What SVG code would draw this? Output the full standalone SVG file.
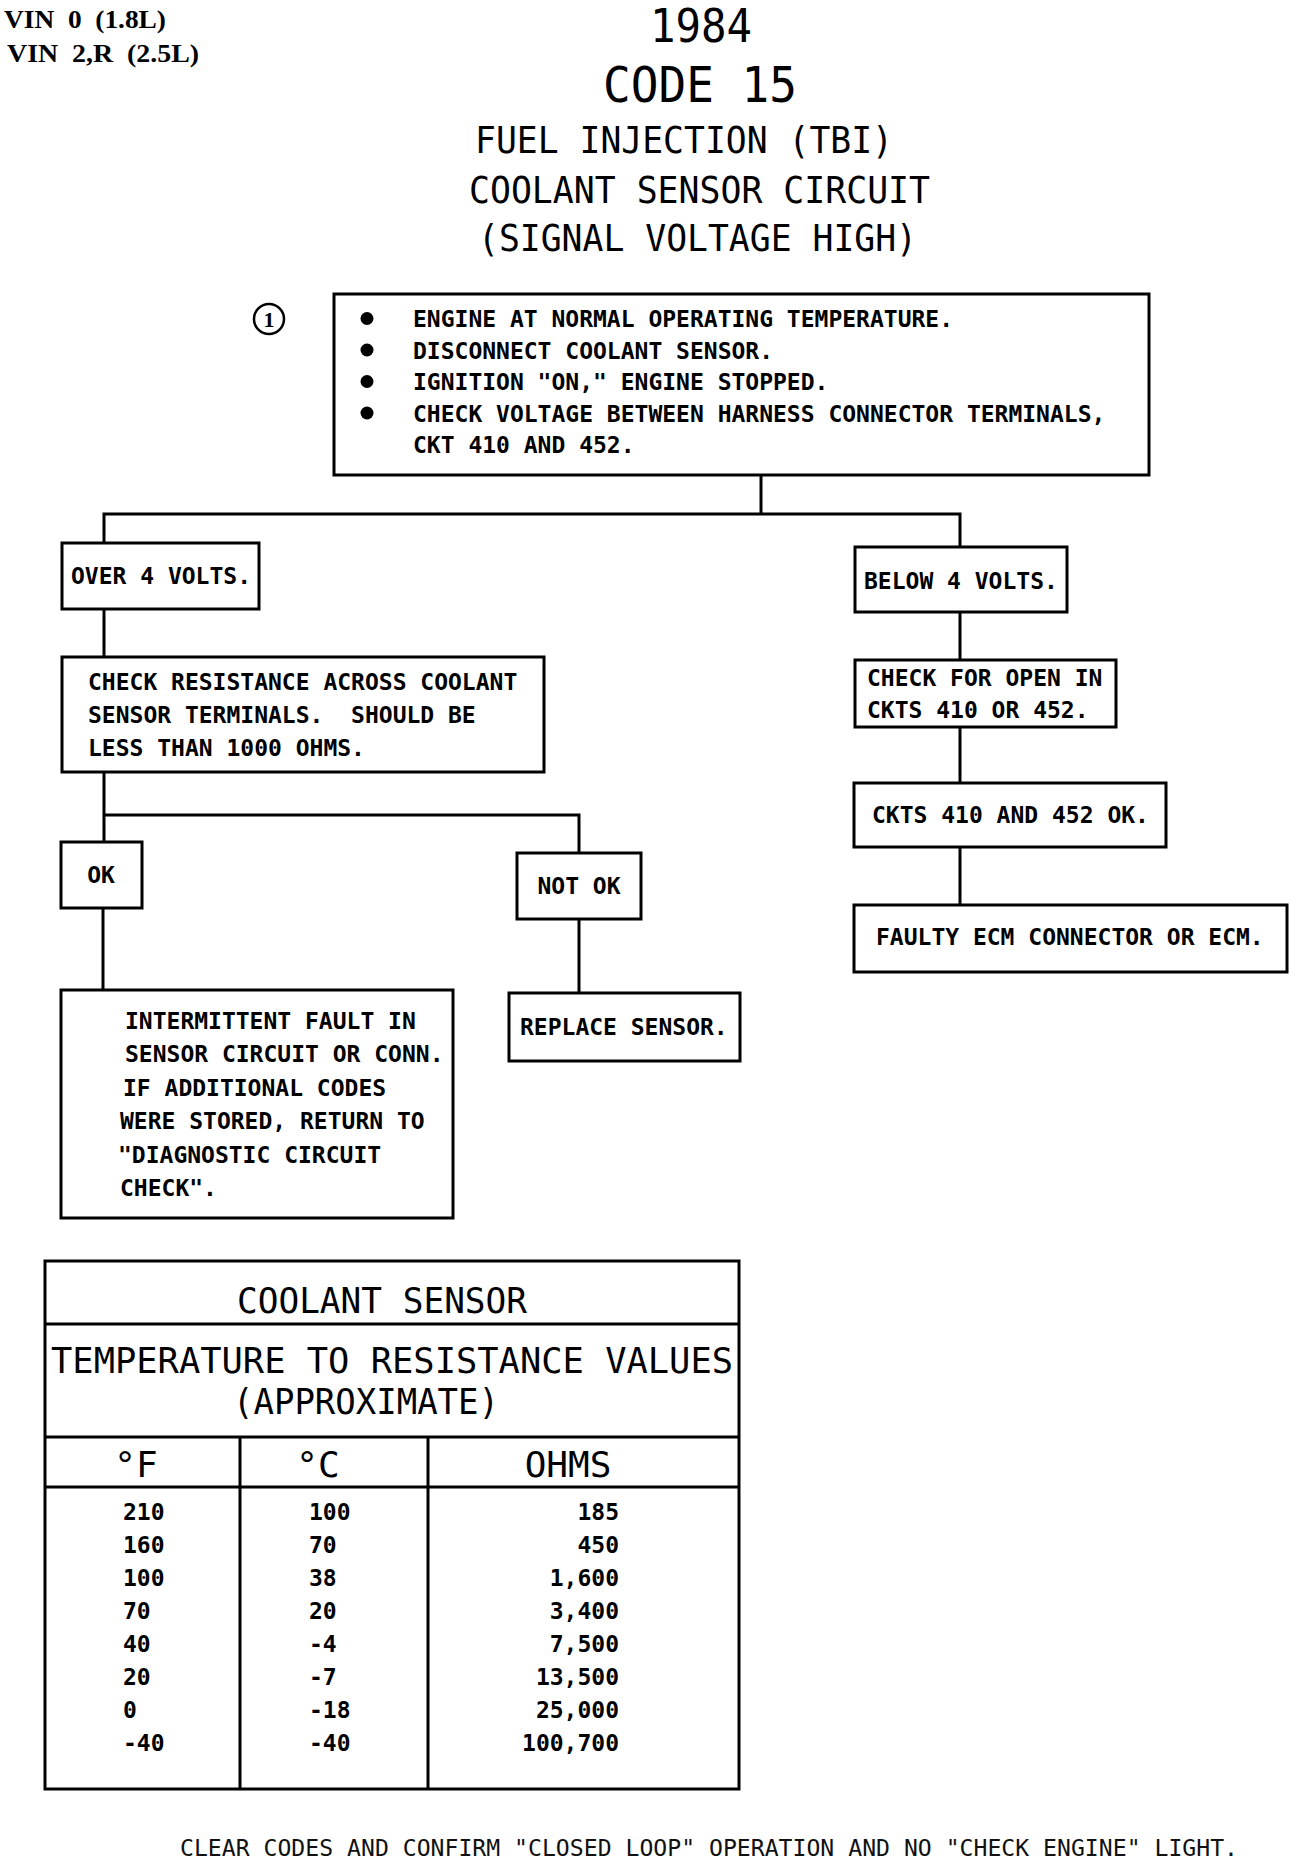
<svg xmlns="http://www.w3.org/2000/svg" width="1312" height="1862" viewBox="0 0 1312 1862">
<style>
text { font-family: "DejaVu Sans Mono", "Liberation Mono", monospace; fill: #000; white-space: pre; }
.vin { font-family: "Liberation Serif", "DejaVu Serif", serif; font-weight: bold; font-size: 25px; }
.ttl { font-size: 38px; }
.b { font-weight: bold; font-size: 23px; }
.th { font-size: 36px; }
.ft { font-size: 23px; fill: #111; }
.box { fill: #fff; stroke: #000; stroke-width: 3; }
.ln { fill: none; stroke: #000; stroke-width: 3; }
</style>
<rect width="1312" height="1862" fill="#fff"/>

<g id="header">
<text class="vin" xml:space="preserve" x="4" y="28" textLength="162" lengthAdjust="spacingAndGlyphs">VIN  0  (1.8L)</text>
<text class="vin" xml:space="preserve" x="7" y="62" textLength="192" lengthAdjust="spacingAndGlyphs">VIN  2,R  (2.5L)</text>
<text x="650" y="42" font-size="42" textLength="102" lengthAdjust="spacingAndGlyphs" transform="matrix(1,0,0,1.1,0,-4.2)">1984</text>
<text x="603" y="102" font-size="50" textLength="194" lengthAdjust="spacingAndGlyphs">CODE 15</text>
<text class="ttl" x="475" y="153" textLength="418" lengthAdjust="spacingAndGlyphs">FUEL INJECTION (TBI)</text>
<text class="ttl" x="469" y="203" textLength="461" lengthAdjust="spacingAndGlyphs">COOLANT SENSOR CIRCUIT</text>
<text class="ttl" x="478" y="251" textLength="439" lengthAdjust="spacingAndGlyphs">(SIGNAL VOLTAGE HIGH)</text>
</g>

<g id="step-marker">
<circle cx="269" cy="319" r="15" fill="none" stroke="#000" stroke-width="2.5"/>
<text x="269" y="327" text-anchor="middle" font-weight="bold" font-size="22" style="font-family:'Liberation Serif', serif">1</text>
</g>

<g id="connectors">
<path class="ln" d="M761,475 V514"/>
<path class="ln" d="M104,543 V514 H960 V547"/>
<path class="ln" d="M104,609 V657"/>
<path class="ln" d="M104,772 V842"/>
<path class="ln" d="M104,815 H579 V853"/>
<path class="ln" d="M103,908 V990"/>
<path class="ln" d="M579,919 V993"/>
<path class="ln" d="M960,612 V660"/>
<path class="ln" d="M960,727 V783"/>
<path class="ln" d="M960,847 V905"/>
</g>

<g id="n-start">
<rect class="box" x="334" y="294" width="815" height="181"/>
<circle cx="367" cy="318.5" r="6.5"/>
<circle cx="367" cy="350" r="6.5"/>
<circle cx="367" cy="381.5" r="6.5"/>
<circle cx="367" cy="413" r="6.5"/>
<text class="b" x="413" y="327">ENGINE AT NORMAL OPERATING TEMPERATURE.</text>
<text class="b" x="413" y="358.5">DISCONNECT COOLANT SENSOR.</text>
<text class="b" x="413" y="390">IGNITION "ON," ENGINE STOPPED.</text>
<text class="b" x="413" y="421.5">CHECK VOLTAGE BETWEEN HARNESS CONNECTOR TERMINALS,</text>
<text class="b" x="413" y="453">CKT 410 AND 452.</text>
</g>

<g id="n-over4">
<rect class="box" x="62" y="543" width="197" height="66"/>
<text class="b" x="71" y="584">OVER 4 VOLTS.</text>
</g>

<g id="n-checkres">
<rect class="box" x="62" y="657" width="482" height="115"/>
<text class="b" x="88" y="690">CHECK RESISTANCE ACROSS COOLANT</text>
<text class="b" xml:space="preserve" x="88" y="723">SENSOR TERMINALS.  SHOULD BE</text>
<text class="b" x="88" y="756">LESS THAN 1000 OHMS.</text>
</g>

<g id="n-ok">
<rect class="box" x="61" y="842" width="81" height="66"/>
<text class="b" x="101" y="883" text-anchor="middle">OK</text>
</g>

<g id="n-notok">
<rect class="box" x="517" y="853" width="124" height="66"/>
<text class="b" x="579" y="894" text-anchor="middle">NOT OK</text>
</g>

<g id="n-intermittent">
<rect class="box" x="61" y="990" width="392" height="228"/>
<text class="b" x="125" y="1029">INTERMITTENT FAULT IN</text>
<text class="b" x="125" y="1062">SENSOR CIRCUIT OR CONN.</text>
<text class="b" x="123" y="1096">IF ADDITIONAL CODES</text>
<text class="b" x="120" y="1129">WERE STORED, RETURN TO</text>
<text class="b" x="118" y="1163">"DIAGNOSTIC CIRCUIT</text>
<text class="b" x="120" y="1196">CHECK".</text>
</g>

<g id="n-replace">
<rect class="box" x="509" y="993" width="231" height="68"/>
<text class="b" x="520" y="1035">REPLACE SENSOR.</text>
</g>

<g id="n-below4">
<rect class="box" x="855" y="547" width="212" height="65"/>
<text class="b" x="864" y="589">BELOW 4 VOLTS.</text>
</g>

<g id="n-checkopen">
<rect class="box" x="855" y="660" width="261" height="67"/>
<text class="b" x="867" y="686">CHECK FOR OPEN IN</text>
<text class="b" x="867" y="718">CKTS 410 OR 452.</text>
</g>

<g id="n-cktsok">
<rect class="box" x="854" y="783" width="312" height="64"/>
<text class="b" x="872" y="823">CKTS 410 AND 452 OK.</text>
</g>

<g id="n-faulty">
<rect class="box" x="854" y="905" width="433" height="67"/>
<text class="b" x="876" y="945">FAULTY ECM CONNECTOR OR ECM.</text>
</g>

<g id="table">
<rect class="box" x="45" y="1261" width="694" height="528"/>
<path class="ln" d="M45,1324 H739 M45,1437 H739 M45,1487 H739 M240,1437 V1789 M428,1437 V1789"/>
<text class="th" x="237" y="1313" textLength="290" lengthAdjust="spacingAndGlyphs">COOLANT SENSOR</text>
<text class="th" x="51" y="1373" textLength="682" lengthAdjust="spacingAndGlyphs">TEMPERATURE TO RESISTANCE VALUES</text>
<text class="th" x="233" y="1414" textLength="266" lengthAdjust="spacingAndGlyphs">(APPROXIMATE)</text>
<text class="th" x="136" y="1477" text-anchor="middle">°F</text>
<text class="th" x="318" y="1477" text-anchor="middle">°C</text>
<text class="th" x="568" y="1477" text-anchor="middle">OHMS</text>
<g id="table-rows">
<text class="b" x="123" y="1520">210</text>
<text class="b" x="123" y="1553">160</text>
<text class="b" x="123" y="1586">100</text>
<text class="b" x="123" y="1619">70</text>
<text class="b" x="123" y="1652">40</text>
<text class="b" x="123" y="1685">20</text>
<text class="b" x="123" y="1718">0</text>
<text class="b" x="123" y="1751">-40</text>
<text class="b" x="309" y="1520">100</text>
<text class="b" x="309" y="1553">70</text>
<text class="b" x="309" y="1586">38</text>
<text class="b" x="309" y="1619">20</text>
<text class="b" x="309" y="1652">-4</text>
<text class="b" x="309" y="1685">-7</text>
<text class="b" x="309" y="1718">-18</text>
<text class="b" x="309" y="1751">-40</text>
<text class="b" x="619" y="1520" text-anchor="end">185</text>
<text class="b" x="619" y="1553" text-anchor="end">450</text>
<text class="b" x="619" y="1586" text-anchor="end">1,600</text>
<text class="b" x="619" y="1619" text-anchor="end">3,400</text>
<text class="b" x="619" y="1652" text-anchor="end">7,500</text>
<text class="b" x="619" y="1685" text-anchor="end">13,500</text>
<text class="b" x="619" y="1718" text-anchor="end">25,000</text>
<text class="b" x="619" y="1751" text-anchor="end">100,700</text>
</g>
</g>

<g id="footer">
<text class="ft" x="180" y="1856" textLength="1058" lengthAdjust="spacingAndGlyphs">CLEAR CODES AND CONFIRM "CLOSED LOOP" OPERATION AND NO "CHECK ENGINE" LIGHT.</text>
</g>
</svg>
